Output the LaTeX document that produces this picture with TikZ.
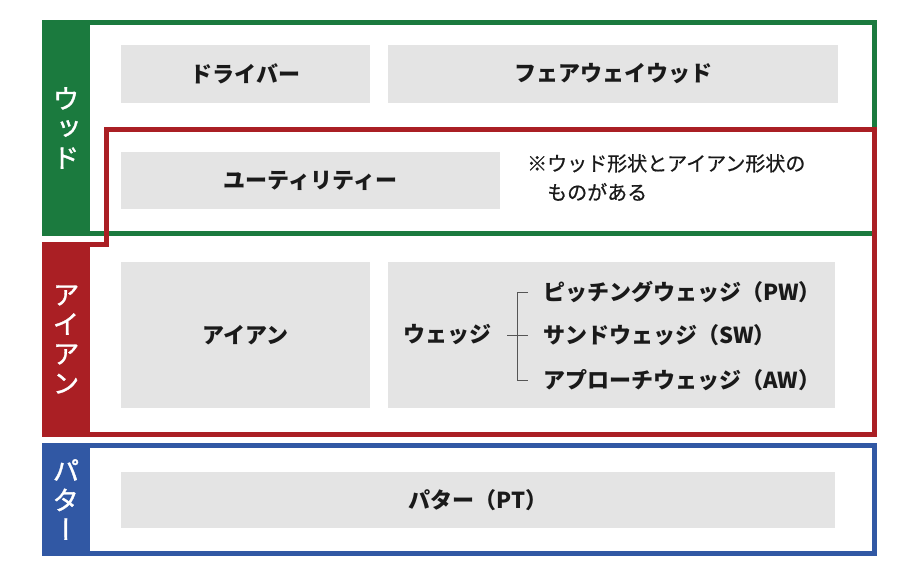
\documentclass[tikz,border=0pt]{standalone}
\usepackage{fontspec}
\setmainfont{Noto Sans CJK JP}
\newfontfamily\vjp[RawFeature=+vert, FakeBold=1.2]{Noto Sans CJK JP}
\newfontfamily\notejp[FakeBold=0.6]{Noto Sans CJK JP}
\usepackage{xcolor}
\usepackage{tikz}
\usetikzlibrary{positioning,calc}
\definecolor{woodgreen}{HTML}{1B7A3E}
\definecolor{ironred}{HTML}{AA1F24}
\definecolor{puttblue}{HTML}{3158A4}
\definecolor{boxgray}{HTML}{E4E4E4}
\definecolor{ink}{HTML}{1A1A1A}
\definecolor{linegray}{HTML}{555555}
\tikzset{
  cell/.style={fill=boxgray, text=ink, inner sep=0pt, font=\bfseries\fontsize{22}{26}\selectfont},
  item/.style={text=ink, inner sep=0pt, font=\bfseries\fontsize{22}{26}\selectfont},
  tab/.style={text=white, align=center, inner sep=0pt, minimum width=48pt, font=\vjp\fontsize{27}{29.5}\selectfont},
  frame/.style={line width=5pt},
  brk/.style={draw=linegray, line width=1pt}
}

\begin{document}
\begin{tikzpicture}[x=1pt, y=-1pt]
    \useasboundingbox (0,0) rectangle (920,570);

    % frames
    \draw[frame, woodgreen] (44.5,22.5) rectangle (874.5,233);
    \node[tab, fill=woodgreen, minimum height=216pt] (wood) at (66,128) {ウ\\ッ\\ド};

    \draw[frame, ironred] (106.5,129.5) -- (874.5,129.5) -- (874.5,434.5)
      -- (44.5,434.5) -- (44.5,244.5) -- (106.5,244.5) -- cycle;
    \node[tab, fill=ironred, minimum height=195pt] (iron) at (66,339.5) {ア\\イ\\ア\\ン};

    \draw[frame, puttblue] (44.5,445.5) rectangle (874.5,553.5);
    \node[tab, fill=puttblue, minimum height=113pt] (putt) at (66,499.5) {パ\\タ\\ー};

    % boxes
    \node[cell, minimum width=249pt, minimum height=58pt] (driver) at (245.5,74) {ドライバー};
    \node[cell, minimum width=450pt, minimum height=58pt] (fairway) at (613,74) {フェアウェイウッド};
    \node[cell, minimum width=379pt, minimum height=57pt] (utility) at (310.5,180.5) {ユーティリティー};
    \node[text=ink, inner sep=0pt, anchor=west, align=left, font=\notejp\fontsize{20}{29}\selectfont]
      (note) at (527,177.5) {※ウッド形状とアイアン形状の\\\phantom{※}ものがある};

    \node[cell, minimum width=249pt, minimum height=146pt] (ironbox) at (245.5,335) {アイアン};
    \node[cell, minimum width=447pt, minimum height=146pt] (wedgebox) at (611.5,335) {};
    \node[item, anchor=east] (wedge) at (492,335) {ウェッジ};
    \node[item, anchor=west] (pw) at (543,292) {ピッチングウェッジ（PW）};
    \node[item, anchor=west] (sw) at (543,335) {サンドウェッジ（SW）};
    \node[item, anchor=west] (aw) at (543,380) {アプローチウェッジ（AW）};

    \draw[brk] ([xshift=-15pt]pw.west) -- ++(-11,0) |- ([xshift=-15pt]aw.west);
    \draw[brk] ([xshift=15pt]wedge.east) -- ([xshift=-15pt]sw.west);

    \node[cell, minimum width=714pt, minimum height=56pt] (putter) at (478,500) {パター（PT）};
  \end{tikzpicture}
\end{document}
